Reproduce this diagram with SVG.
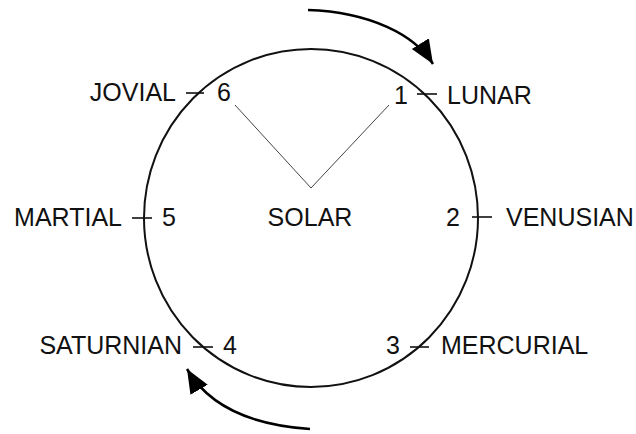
<svg xmlns="http://www.w3.org/2000/svg" width="636" height="434" viewBox="0 0 636 434">
<style>
text{font-family:"Liberation Sans",Arial,sans-serif;font-size:25px;fill:#111}
.tick{stroke:#111;stroke-width:1.6}
.arrow{fill:none;stroke:#000;stroke-width:2.5}
.spoke{stroke:#444;stroke-width:1}
</style>
<defs>
<marker id="head" markerUnits="userSpaceOnUse" markerWidth="26" markerHeight="22" refX="24" refY="10" orient="auto"><path d="M0,0 L24,10 L0,20 z" fill="#000"/></marker>
</defs>
<rect width="636" height="434" fill="#fff"/>
<g id="wheel"><ellipse cx="311" cy="218" rx="167" ry="169" fill="none" stroke="#111" stroke-width="2"/></g>
<g id="connectors">
<path class="arrow" d="M308,10 C370,12 415,35 433,64" marker-end="url(#head)"/>
<path class="arrow" d="M310,429 C250,425 208,405 187,369" marker-end="url(#head)"/>
<path class="spoke" d="M235,105 L311,188 L389,105" fill="none"/>
</g>
<g id="solar"><text x="310" y="226" text-anchor="middle">SOLAR</text></g>
<g id="lunar"><text x="394" y="104">1</text><line class="tick" x1="417" y1="94" x2="437" y2="94"/><text x="447" y="104">LUNAR</text></g>
<g id="venusian"><text x="446" y="226">2</text><line class="tick" x1="472" y1="217" x2="492" y2="217"/><text x="506" y="226">VENUSIAN</text></g>
<g id="mercurial"><text x="386" y="354">3</text><line class="tick" x1="410" y1="347" x2="429" y2="347"/><text x="441" y="354">MERCURIAL</text></g>
<g id="saturnian"><text x="182" y="354" text-anchor="end">SATURNIAN</text><line class="tick" x1="193" y1="347" x2="213" y2="347"/><text x="223" y="354">4</text></g>
<g id="martial"><text x="122" y="226" text-anchor="end">MARTIAL</text><line class="tick" x1="132" y1="218" x2="152" y2="218"/><text x="162" y="226">5</text></g>
<g id="jovial"><text x="176" y="101" text-anchor="end">JOVIAL</text><line class="tick" x1="186" y1="93" x2="204" y2="93"/><text x="217" y="101">6</text></g>
</svg>
